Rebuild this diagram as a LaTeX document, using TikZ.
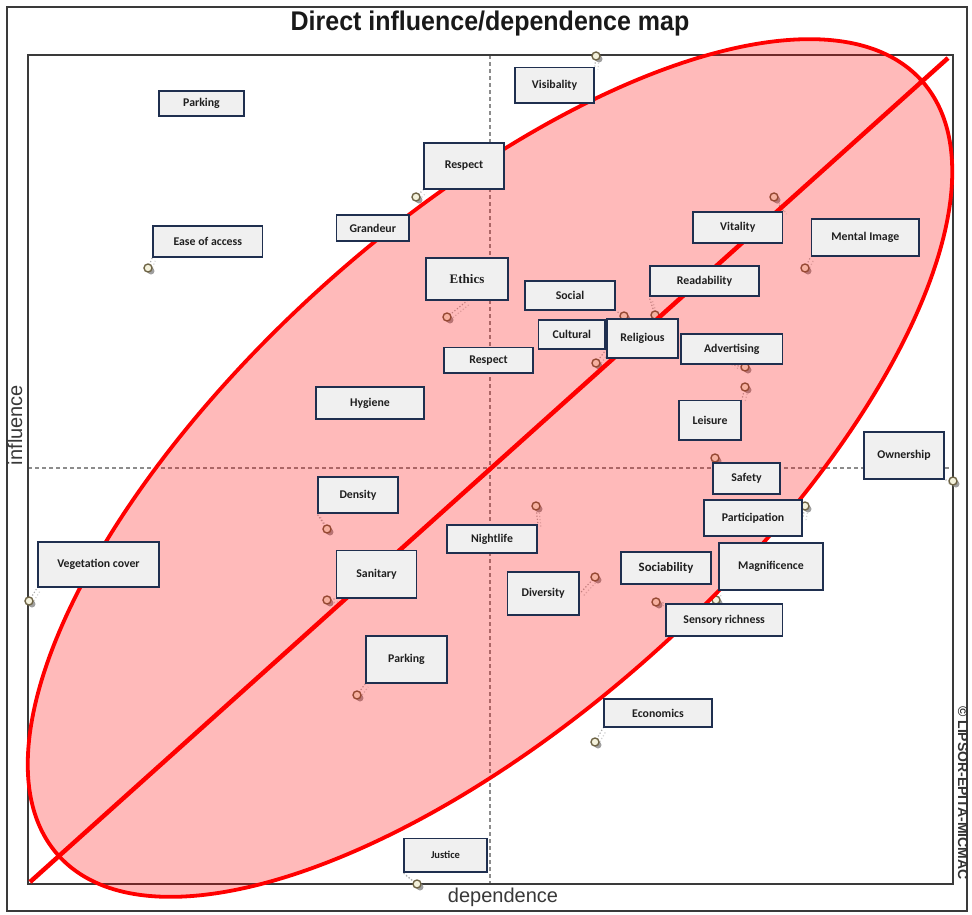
\documentclass[tikz,border=0pt]{standalone}
\usepackage{fontspec}
\setmainfont{Carlito}
\newfontfamily\arialfont{Liberation Sans}
\newfontfamily\timesfont{Liberation Serif}
\pgfdeclarelayer{back}
\pgfsetlayers{back,main}
\definecolor{boxline}{HTML}{1F2F4F}
\definecolor{boxfill}{HTML}{F0F0F0}
\definecolor{frameline}{HTML}{3A3A3A}
\definecolor{axisdash}{HTML}{8C8C8C}
\definecolor{markline}{HTML}{6E6446}
\definecolor{markfill}{HTML}{F4F2DC}
\definecolor{zonered}{HTML}{FF0000}
\tikzset{
  factor/.style={draw=boxline, fill=boxfill, line width=1.7pt, inner sep=0pt,
    text=black!88, font=\bfseries\fontsize{11.8}{14}\selectfont},
  marker/.style={circle, draw=markline, fill=markfill, line width=1.4pt,
    minimum size=8pt, inner sep=0pt},
  markshadow/.style={circle, fill=gray!75, minimum size=7pt, inner sep=0pt},
  leader/.style={draw=gray!65, dotted, line width=1.2pt},
  leadershadow/.style={draw=gray!35, dotted, line width=1.2pt},
  axisline/.style={draw=axisdash, dash pattern=on 4pt off 3pt, line width=1.3pt},
  axislabel/.style={text=black!78, font=\arialfont\fontsize{20}{22}\selectfont},
}
\newcommand{\factorbox}[6]{%
  \node[factor, minimum width=#4pt, minimum height=#5pt] (#1) at (#2,#3) {#6};}
\begin{document}
\begin{tikzpicture}[x=1pt,y=-1pt]
\useasboundingbox (0,0) rectangle (972,914);

% factor labels (drawn on the main layer, above everything else)
\factorbox{parkA}{201.5}{103.5}{85}{25}{Parking}
\factorbox{visib}{554.5}{85.2}{79}{35.5}{Visibality}
\factorbox{respA}{464}{166}{80}{46}{Respect}
\factorbox{grand}{372.8}{228}{72.5}{26}{Grandeur}
\factorbox{ease}{207.8}{241.5}{109.5}{31}{Ease of access}
\factorbox{vital}{737.8}{227.5}{89.5}{31}{Vitality}
\factorbox{mental}{865.3}{237.5}{107.5}{37}{Mental Image}
\factorbox{ethics}{467}{279}{82}{42}{{\timesfont\fontsize{13}{15}\selectfont\bfseries Ethics}}
\factorbox{readab}{704.5}{281}{109}{30}{Readability}
\factorbox{social}{570}{295.5}{90}{29}{Social}
\factorbox{cultural}{571.8}{334.5}{66.5}{29}{Cultural}
\factorbox{relig}{642.5}{338.5}{71}{39}{Religious}
\factorbox{advert}{731.8}{349}{101.5}{30}{Advertising}
\factorbox{respB}{488.5}{360.2}{89}{25.5}{Respect}
\factorbox{hygiene}{370}{403}{108}{32}{Hygiene}
\factorbox{leisure}{710}{420.2}{62}{39.5}{Leisure}
\factorbox{owner}{904}{455.5}{80}{47}{Ownership}
\factorbox{safety}{746.5}{478.5}{67}{31}{Safety}
\factorbox{density}{358}{495}{80}{36}{Density}
\factorbox{particip}{753}{518}{98}{36}{Participation}
\factorbox{night}{492}{539}{90}{28}{Nightlife}
\factorbox{veget}{98.5}{564.5}{121}{45}{Vegetation cover}
\factorbox{magnif}{771}{566.5}{104}{47}{Magnificence}
\factorbox{sociab}{666}{568}{90}{32}{{\fontsize{12.8}{15}\selectfont Sociability}}
\factorbox{sanit}{376.5}{574.2}{80}{47.5}{Sanitary}
\factorbox{divers}{543.2}{593.5}{71.5}{43}{Diversity}
\factorbox{sensory}{724.2}{620}{116.5}{32}{Sensory richness}
\factorbox{parkB}{406.5}{659.5}{81}{47}{Parking}
\factorbox{econ}{658}{713}{108}{28}{Economics}
\factorbox{justice}{445.5}{855.2}{83}{33.5}{{\fontsize{10.5}{12}\selectfont Justice}}

\begin{pgfonlayer}{back}
  % page frame, title and axis names
  \draw[draw=frameline, line width=1.2pt] (7,7) rectangle (967,911);
  \node[font=\arialfont\bfseries\fontsize{25}{28}\selectfont, text=black!90, yscale=1.08] (title) at (490,24) {Direct influence/dependence map};
  \node[axislabel] (xlab) at (503,897) {dependence};
  \node[axislabel, rotate=90] (ylab) at (15,425) {influence};
  \node[font=\arialfont\bfseries\fontsize{14}{16}\selectfont, text=black!80, rotate=-90] (copy) at (963,793) {© LIPSOR-EPITA-MICMAC};

  % plot area and mean-value cross
  \draw[axisline] (490,55) -- (490,884);
  \draw[axisline] (28,468) -- (953,468);
  \draw[draw=frameline, line width=1.7pt] (28,55) rectangle (953,884);

  % variable positions: shadow, marker, leader to label
  \foreach \nm/\px/\py/\tgt in {
      visib/596/56/visib.north east,
      respA/416/197/respA.south west,
      ease/148/268/ease.south west,
      vital/774/197/vital.north east,
      mental/805/268/mental.south west,
      ethics/447/317/ethics.south,
      social/624/316/social.south east,
      readab/655/315/readab.south west,
      cultural/596/363/cultural.south east,
      advert/745/367/advert.south,
      leisure/745/387/leisure.north east,
      safety/715/458/safety.north west,
      owner/953/481/owner.south east,
      particip/805/506/particip.east,
      magnif/716/600/magnif.south west,
      sensory/656/602/sensory.north west,
      divers/595/577/divers.east,
      night/536/506/night.north east,
      density/327/529/density.south west,
      sanit/327/600/sanit.south west,
      veget/29/601/veget.south west,
      parkB/357/695/parkB.south west,
      econ/595/742/econ.south west,
      justice/417/884/justice.south west} {
    \node[markshadow] (s-\nm) at (\px+3,\py+3) {};
    \draw[leadershadow] (s-\nm) -- ([xshift=3pt,yshift=-3pt]\tgt);
    \draw[leader] (\px,\py) -- (\tgt);
    \node[marker] (m-\nm) at (\px,\py) {};
  }

  % influence/dependence zone
  \draw[draw=zonered, line width=3.8pt, fill=zonered, fill opacity=0.27,
        rotate around={41.9:(490,468)}] (490,468) ellipse [x radius=580pt, y radius=247pt];
  \coordinate (dstart) at (30,882);
  \coordinate (dend) at (948,58);
  \draw[draw=zonered, line width=4.5pt] (dstart) -- (dend);
\end{pgfonlayer}
\end{tikzpicture}
\end{document}
